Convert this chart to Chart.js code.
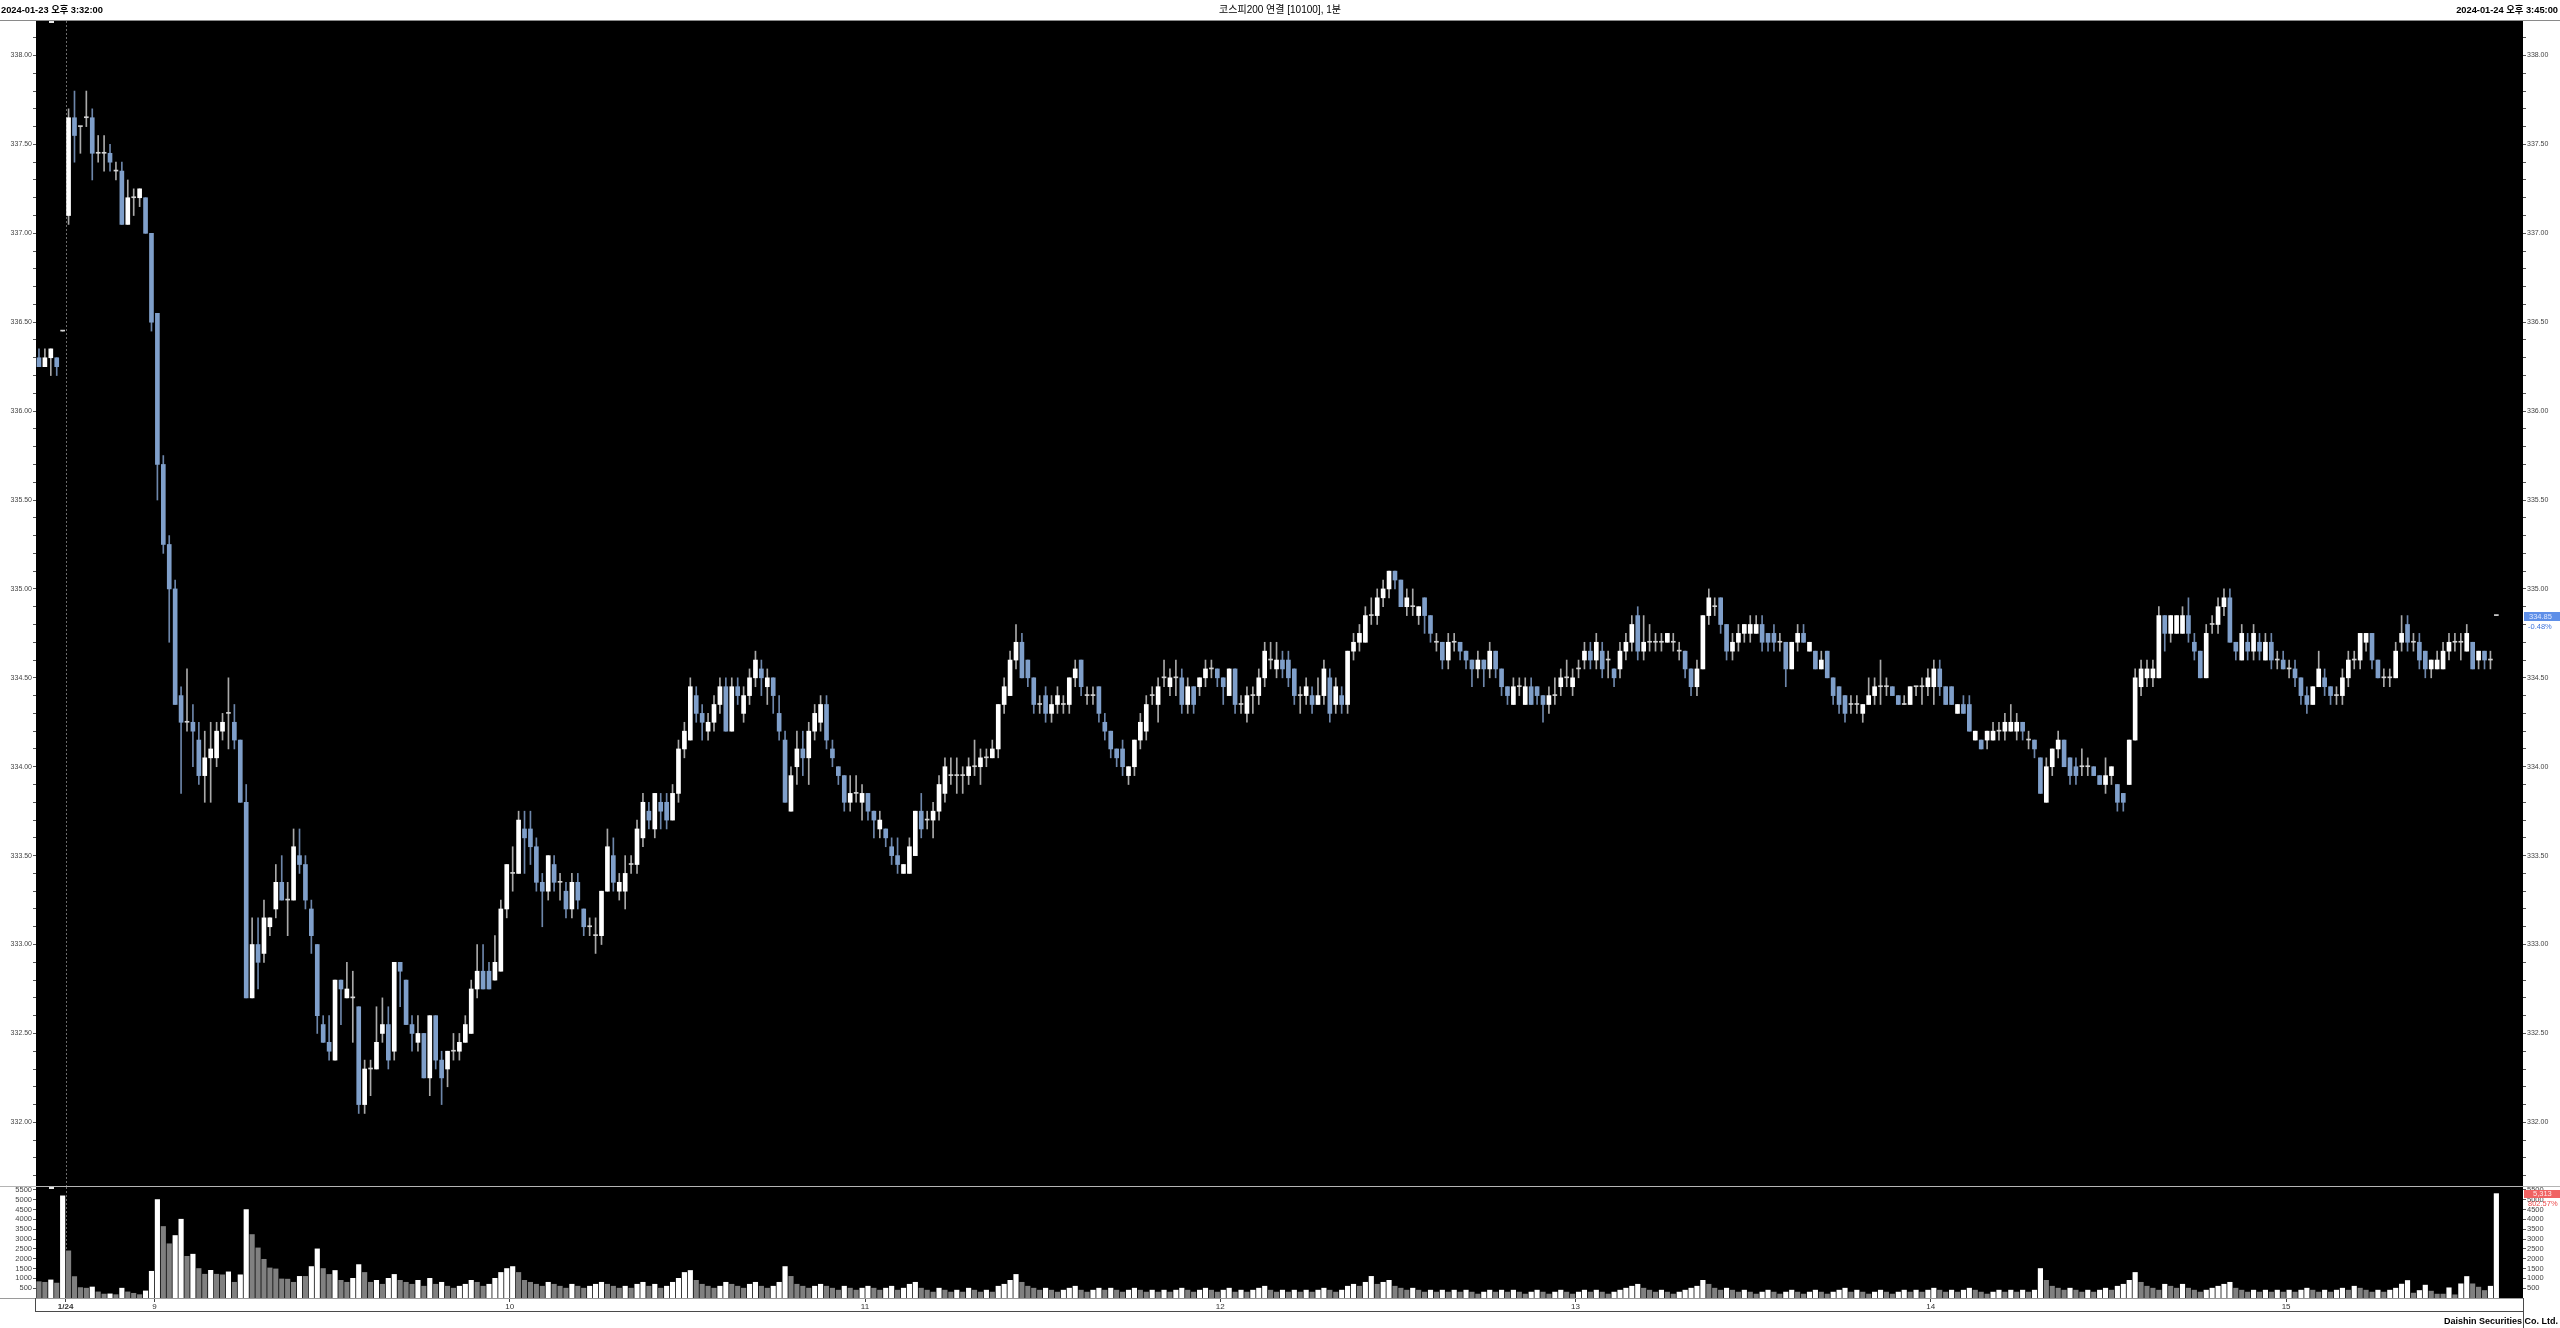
<!DOCTYPE html>
<html lang="ko">
<head>
<meta charset="utf-8">
<title>코스피200 연결 [10100], 1분</title>
<script src="https://cdn.jsdelivr.net/npm/chart.js@4.4.1/dist/chart.umd.min.js"></script>
<style>
  html, body { margin: 0; padding: 0; background: #fff; }
  body { width: 2560px; height: 1328px; position: relative; overflow: hidden;
         font-family: "Liberation Sans", "Noto Sans CJK KR", sans-serif; }
  canvas { position: absolute; left: 0; top: 0; }
  .txt { position: absolute; white-space: nowrap; color: #000; line-height: 12px; }
  #hdrLeft { left: 1px; top: 4px; font-size: 9.3px; font-weight: bold; }
  #hdrTitle { left: 0; width: 2560px; top: 4px; text-align: center; font-size: 10px; }
  #hdrRight { right: 2px; top: 4px; font-size: 9.3px; font-weight: bold; }
  #footer { right: 2px; top: 1315px; font-size: 9px; font-weight: bold; }
</style>
</head>
<body>
<canvas id="price" width="2560" height="1328"></canvas>
<canvas id="volume" width="2560" height="1328"></canvas>
<div class="txt" id="hdrLeft">2024-01-23 오후 3:32:00</div>
<div class="txt" id="hdrTitle">코스피200 연결 [10100], 1분</div>
<div class="txt" id="hdrRight">2024-01-24 오후 3:45:00</div>
<div class="txt" id="footer">Daishin Securities Co. Ltd.</div>
<script>
// 1-minute candles: 4 + closing auction of 01/23, then 01/24 08:45 .. 15:34 and the 15:45 close
const opens = [
  336.30,336.25,336.30,336.30,336.45,337.10,337.65,337.60,337.65,337.65,
  337.45,337.45,337.45,337.35,337.35,337.05,337.20,337.20,337.20,337.00,
  336.55,335.70,335.25,335.00,334.40,334.25,334.25,334.15,333.95,334.05,
  334.05,334.20,334.30,334.25,334.15,333.80,332.70,333.00,332.95,333.10,
  333.20,333.35,333.25,333.25,333.50,333.45,333.20,333.00,332.55,332.45,
  332.35,332.80,332.70,332.70,332.65,332.10,332.30,332.30,332.50,332.55,
  332.40,332.90,332.80,332.55,332.45,332.50,332.25,332.60,332.35,332.30,
  332.40,332.40,332.45,332.50,332.75,332.85,332.85,332.80,332.85,333.20,
  333.40,333.40,333.65,333.65,333.55,333.35,333.30,333.45,333.35,333.30,
  333.20,333.35,333.20,333.10,333.05,333.05,333.30,333.50,333.30,333.30,
  333.45,333.45,333.60,333.75,333.65,333.80,333.80,333.70,333.85,334.10,
  334.15,334.40,334.30,334.20,334.25,334.35,334.45,334.20,334.45,334.30,
  334.40,334.50,334.55,334.45,334.50,334.30,334.15,333.75,334.00,334.10,
  334.05,334.20,334.25,334.35,334.10,334.00,333.95,333.80,333.85,333.80,
  333.85,333.75,333.65,333.65,333.55,333.50,333.40,333.40,333.50,333.75,
  333.70,333.70,333.75,333.85,333.95,333.95,333.95,333.95,334.00,334.00,
  334.05,334.05,334.10,334.35,334.40,334.60,334.70,334.60,334.50,334.35,
  334.40,334.30,334.35,334.35,334.35,334.50,334.60,334.40,334.40,334.45,
  334.25,334.20,334.10,334.10,333.95,334.00,334.15,334.20,334.40,334.35,
  334.50,334.45,334.50,334.50,334.35,334.45,334.45,334.50,334.55,334.55,
  334.50,334.40,334.55,334.35,334.30,334.40,334.40,334.50,334.60,334.55,
  334.60,334.60,334.55,334.40,334.40,334.40,334.35,334.40,334.50,334.35,
  334.40,334.35,334.65,334.70,334.70,334.85,334.85,334.95,335.00,335.10,
  335.05,334.90,334.90,334.85,334.95,334.85,334.70,334.70,334.60,334.70,
  334.70,334.65,334.60,334.55,334.60,334.55,334.65,334.55,334.45,334.35,
  334.45,334.35,334.45,334.45,334.40,334.35,334.40,334.45,334.50,334.45,
  334.55,334.60,334.65,334.60,334.65,334.60,334.55,334.55,334.65,334.70,
  334.85,334.65,334.70,334.70,334.70,334.70,334.70,334.65,334.65,334.55,
  334.45,334.55,334.85,334.90,334.95,334.80,334.65,334.70,334.75,334.75,
  334.75,334.80,334.75,334.75,334.70,334.70,334.55,334.70,334.75,334.65,
  334.65,334.55,334.65,334.50,334.45,334.40,334.35,334.35,334.30,334.35,
  334.40,334.45,334.45,334.45,334.40,334.35,334.35,334.45,334.45,334.45,
  334.45,334.55,334.45,334.45,334.30,334.35,334.35,334.15,334.15,334.15,
  334.15,334.20,334.20,334.20,334.20,334.25,334.15,334.15,334.05,333.80,
  334.00,334.10,334.15,334.05,334.00,334.00,334.00,334.00,333.95,333.90,
  333.95,333.90,333.85,333.90,334.15,334.45,334.50,334.50,334.50,334.85,
  334.75,334.75,334.75,334.85,334.70,334.65,334.50,334.80,334.80,334.90,
  334.95,334.70,334.60,334.70,334.65,334.70,334.60,334.70,334.60,334.60,
  334.55,334.55,334.50,334.40,334.35,334.45,334.50,334.45,334.40,334.40,
  334.50,334.60,334.60,334.70,334.75,334.60,334.50,334.50,334.50,334.70,
  334.80,334.70,334.70,334.65,334.55,334.55,334.55,334.65,334.70,334.70,
  334.65,334.70,334.60,334.65,334.60,334.85
];
const highs = [
  336.35,336.35,336.35,336.30,336.45,337.70,337.80,337.60,337.80,337.70,
  337.55,337.55,337.50,337.40,337.40,337.30,337.25,337.25,337.20,337.00,
  336.55,335.75,335.30,335.05,334.45,334.55,334.35,334.25,334.20,334.25,
  334.25,334.30,334.50,334.35,334.15,333.90,333.15,333.15,333.25,333.15,
  333.45,333.50,333.35,333.65,333.65,333.50,333.25,333.00,332.60,332.60,
  332.80,332.80,332.90,332.85,332.65,332.35,332.35,332.65,332.70,332.65,
  332.90,332.90,332.80,332.60,332.60,332.50,332.60,332.60,332.40,332.40,
  332.50,332.50,332.60,332.80,333.00,333.00,332.90,333.05,333.25,333.45,
  333.55,333.75,333.75,333.75,333.60,333.40,333.50,333.50,333.40,333.35,
  333.40,333.40,333.20,333.15,333.15,333.30,333.65,333.60,333.40,333.50,
  333.50,333.70,333.85,333.80,333.85,333.85,333.85,333.90,334.15,334.25,
  334.50,334.45,334.35,334.30,334.40,334.50,334.50,334.50,334.50,334.45,
  334.55,334.65,334.60,334.55,334.50,334.40,334.20,334.00,334.20,334.20,
  334.25,334.35,334.40,334.40,334.15,334.00,333.95,333.95,333.95,333.90,
  333.85,333.75,333.75,333.65,333.60,333.60,333.45,333.60,333.75,333.85,
  333.75,333.80,333.95,334.05,334.05,334.05,334.00,334.05,334.15,334.10,
  334.10,334.15,334.35,334.50,334.65,334.80,334.75,334.60,334.50,334.40,
  334.45,334.40,334.45,334.40,334.50,334.60,334.60,334.45,334.45,334.45,
  334.30,334.20,334.10,334.15,334.00,334.15,334.30,334.40,334.45,334.50,
  334.60,334.55,334.60,334.55,334.50,334.45,334.50,334.60,334.60,334.55,
  334.50,334.55,334.55,334.40,334.45,334.45,334.55,334.70,334.70,334.70,
  334.65,334.65,334.55,334.45,334.50,334.45,334.50,334.60,334.55,334.50,
  334.45,334.65,334.75,334.80,334.90,334.95,335.00,335.05,335.10,335.10,
  335.05,335.00,335.00,334.90,334.95,334.85,334.75,334.70,334.75,334.75,
  334.70,334.65,334.60,334.65,334.60,334.70,334.65,334.55,334.45,334.50,
  334.50,334.50,334.50,334.45,334.40,334.45,334.50,334.55,334.60,334.55,
  334.60,334.70,334.70,334.75,334.70,334.65,334.55,334.70,334.75,334.85,
  334.90,334.85,334.80,334.75,334.75,334.75,334.75,334.70,334.65,334.55,
  334.60,334.85,335.00,334.95,334.95,334.80,334.75,334.80,334.80,334.85,
  334.85,334.85,334.75,334.80,334.75,334.70,334.70,334.80,334.80,334.70,
  334.65,334.65,334.65,334.50,334.45,334.40,334.40,334.40,334.35,334.50,
  334.50,334.60,334.50,334.45,334.40,334.40,334.45,334.45,334.50,334.55,
  334.60,334.60,334.45,334.45,334.35,334.40,334.40,334.20,334.15,334.20,
  334.25,334.25,334.30,334.35,334.30,334.25,334.20,334.15,334.05,334.05,
  334.10,334.20,334.15,334.05,334.05,334.10,334.05,334.00,333.95,334.05,
  334.00,333.90,333.85,334.15,334.55,334.60,334.60,334.60,334.90,334.85,
  334.85,334.85,334.90,334.95,334.75,334.65,334.80,334.85,334.95,335.00,
  335.00,334.70,334.80,334.75,334.80,334.75,334.75,334.75,334.65,334.65,
  334.60,334.60,334.50,334.45,334.45,334.65,334.55,334.45,334.45,334.55,
  334.65,334.65,334.75,334.75,334.75,334.60,334.55,334.55,334.70,334.85,
  334.85,334.75,334.75,334.65,334.60,334.65,334.70,334.75,334.75,334.75,
  334.80,334.70,334.65,334.65,334.65,334.85
];
const lows = [
  336.25,336.25,336.20,336.20,336.45,337.05,337.40,337.45,337.60,337.30,
  337.40,337.35,337.35,337.30,337.05,337.05,337.10,337.15,337.00,336.45,
  335.50,335.20,334.70,334.35,333.85,334.20,334.00,333.90,333.80,333.80,
  334.00,334.15,334.10,334.10,333.80,332.70,332.70,332.75,332.90,333.05,
  333.15,333.25,333.05,333.25,333.40,333.20,332.95,332.50,332.45,332.35,
  332.35,332.55,332.70,332.45,332.05,332.05,332.15,332.30,332.45,332.30,
  332.35,332.65,332.55,332.40,332.40,332.25,332.15,332.30,332.10,332.20,
  332.35,332.35,332.45,332.50,332.70,332.75,332.75,332.80,332.85,333.15,
  333.30,333.40,333.40,333.45,333.30,333.10,333.25,333.30,333.25,333.15,
  333.15,333.20,333.05,333.05,332.95,333.00,333.30,333.30,333.25,333.20,
  333.40,333.40,333.55,333.65,333.60,333.65,333.65,333.70,333.80,334.05,
  334.15,334.25,334.15,334.15,334.20,334.30,334.20,334.20,334.35,334.25,
  334.35,334.45,334.40,334.35,334.30,334.15,333.80,333.75,333.90,333.95,
  333.90,334.15,334.20,334.10,334.00,333.90,333.75,333.75,333.80,333.70,
  333.70,333.60,333.60,333.55,333.45,333.40,333.40,333.40,333.50,333.60,
  333.65,333.60,333.70,333.80,333.90,333.85,333.85,333.90,333.95,333.90,
  334.00,334.05,334.05,334.30,334.40,334.55,334.50,334.45,334.30,334.30,
  334.25,334.25,334.30,334.30,334.30,334.45,334.40,334.35,334.35,334.25,
  334.15,334.05,334.00,333.95,333.90,333.95,334.10,334.15,334.35,334.25,
  334.45,334.40,334.40,334.30,334.30,334.30,334.40,334.45,334.50,334.45,
  334.35,334.40,334.30,334.30,334.25,334.30,334.35,334.45,334.55,334.50,
  334.50,334.45,334.35,334.30,334.35,334.30,334.35,334.35,334.25,334.30,
  334.30,334.30,334.60,334.65,334.70,334.80,334.80,334.90,334.95,335.00,
  334.90,334.85,334.85,334.80,334.75,334.70,334.65,334.55,334.55,334.65,
  334.60,334.55,334.45,334.50,334.45,334.50,334.50,334.40,334.35,334.35,
  334.40,334.35,334.35,334.35,334.25,334.30,334.35,334.40,334.45,334.40,
  334.50,334.55,334.55,334.55,334.50,334.50,334.45,334.50,334.60,334.65,
  334.60,334.60,334.65,334.65,334.65,334.70,334.65,334.60,334.50,334.40,
  334.40,334.55,334.80,334.85,334.75,334.60,334.60,334.65,334.70,334.70,
  334.75,334.65,334.65,334.65,334.65,334.45,334.55,334.65,334.70,334.65,
  334.55,334.55,334.50,334.35,334.30,334.25,334.30,334.30,334.25,334.35,
  334.35,334.35,334.40,334.40,334.35,334.35,334.35,334.40,334.35,334.40,
  334.35,334.40,334.35,334.35,334.30,334.30,334.20,334.15,334.10,334.10,
  334.15,334.15,334.15,334.20,334.15,334.15,334.10,334.05,333.85,333.80,
  333.95,334.05,334.00,333.90,333.90,333.95,333.95,333.95,333.90,333.85,
  333.90,333.75,333.75,333.90,334.15,334.40,334.45,334.45,334.50,334.65,
  334.70,334.75,334.75,334.70,334.60,334.50,334.50,334.75,334.75,334.85,
  334.70,334.60,334.60,334.60,334.60,334.60,334.60,334.55,334.55,334.55,
  334.50,334.45,334.35,334.30,334.35,334.45,334.40,334.35,334.35,334.35,
  334.45,334.55,334.55,334.65,334.55,334.50,334.45,334.45,334.50,334.65,
  334.65,334.65,334.55,334.50,334.50,334.55,334.55,334.60,334.65,334.60,
  334.65,334.55,334.55,334.55,334.55,334.85
];
const closes = [
  336.25,336.30,336.35,336.25,336.45,337.65,337.55,337.60,337.65,337.45,
  337.45,337.45,337.40,337.35,337.05,337.20,337.20,337.25,337.00,336.50,
  335.70,335.25,335.00,334.35,334.25,334.25,334.20,333.95,334.05,334.10,
  334.20,334.25,334.30,334.15,333.80,332.70,333.00,332.90,333.15,333.15,
  333.35,333.25,333.25,333.55,333.45,333.25,333.05,332.60,332.45,332.40,
  332.80,332.75,332.75,332.70,332.10,332.30,332.30,332.45,332.55,332.35,
  332.90,332.85,332.55,332.50,332.50,332.25,332.60,332.35,332.25,332.40,
  332.40,332.45,332.55,332.75,332.85,332.75,332.75,332.90,333.20,333.45,
  333.40,333.70,333.60,333.55,333.35,333.30,333.50,333.35,333.35,333.20,
  333.35,333.25,333.10,333.10,333.05,333.30,333.55,333.35,333.35,333.40,
  333.45,333.65,333.80,333.70,333.85,333.75,333.70,333.85,334.10,334.20,
  334.45,334.30,334.25,334.25,334.35,334.45,334.20,334.45,334.40,334.40,
  334.50,334.60,334.50,334.50,334.40,334.20,333.80,333.95,334.10,334.05,
  334.20,334.30,334.35,334.15,334.05,333.95,333.80,333.85,333.85,333.85,
  333.75,333.70,333.70,333.60,333.50,333.45,333.45,333.55,333.75,333.65,
  333.70,333.75,333.90,334.00,333.95,333.95,333.95,334.00,334.00,334.05,
  334.05,334.10,334.35,334.45,334.60,334.70,334.50,334.50,334.35,334.35,
  334.30,334.35,334.40,334.35,334.50,334.55,334.45,334.40,334.40,334.30,
  334.20,334.10,334.05,334.00,334.00,334.15,334.25,334.35,334.40,334.45,
  334.50,334.50,334.50,334.35,334.45,334.35,334.50,334.55,334.55,334.50,
  334.45,334.55,334.35,334.35,334.40,334.40,334.50,334.65,334.60,334.60,
  334.55,334.50,334.40,334.40,334.45,334.35,334.40,334.55,334.30,334.45,
  334.35,334.65,334.70,334.75,334.85,334.85,334.95,335.00,335.10,335.05,
  334.90,334.95,334.90,334.90,334.85,334.75,334.70,334.60,334.70,334.70,
  334.65,334.60,334.55,334.60,334.55,334.65,334.55,334.45,334.40,334.45,
  334.45,334.45,334.35,334.40,334.35,334.40,334.40,334.50,334.50,334.50,
  334.55,334.65,334.60,334.70,334.55,334.60,334.50,334.65,334.70,334.80,
  334.65,334.70,334.70,334.70,334.70,334.75,334.70,334.65,334.55,334.45,
  334.55,334.85,334.95,334.90,334.80,334.65,334.70,334.75,334.80,334.80,
  334.80,334.70,334.70,334.70,334.70,334.55,334.70,334.75,334.70,334.70,
  334.55,334.60,334.50,334.40,334.35,334.30,334.35,334.35,334.35,334.40,
  334.45,334.45,334.45,334.40,334.35,334.35,334.45,334.45,334.45,334.50,
  334.55,334.45,334.35,334.35,334.35,334.30,334.20,334.20,334.10,334.20,
  334.20,334.20,334.25,334.25,334.25,334.20,334.15,334.10,333.85,334.00,
  334.10,334.15,334.00,333.95,333.95,334.00,334.00,333.95,333.90,333.95,
  334.00,333.80,333.80,334.15,334.50,334.55,334.55,334.55,334.85,334.75,
  334.85,334.85,334.85,334.75,334.65,334.50,334.75,334.80,334.90,334.95,
  334.70,334.65,334.75,334.65,334.75,334.65,334.70,334.60,334.60,334.55,
  334.55,334.50,334.40,334.35,334.45,334.55,334.45,334.40,334.40,334.50,
  334.60,334.60,334.75,334.75,334.60,334.50,334.50,334.50,334.65,334.75,
  334.70,334.70,334.60,334.55,334.60,334.60,334.65,334.70,334.70,334.70,
  334.75,334.55,334.65,334.60,334.60,334.85
];
const volumes = [
  830,800,920,760,5200,2400,1090,530,500,560,
  310,200,210,170,500,310,240,170,360,1360,
  5010,3640,2760,3180,4010,2120,2230,1500,1210,1410,
  1210,1180,1330,800,1180,4500,3230,2550,1970,1530,
  1480,970,960,800,1100,1100,1600,2500,1500,1200,
  1400,900,800,1000,1700,1300,800,900,700,1000,
  1200,900,800,700,900,600,1000,700,800,600,
  500,600,700,900,800,600,700,1000,1300,1500,
  1600,1300,900,800,700,600,800,700,600,500,
  700,600,500,600,700,800,700,600,500,600,
  500,700,800,600,700,500,600,800,1000,1300,
  1400,900,700,600,500,600,800,700,600,500,
  700,800,600,500,600,800,1600,1100,700,600,
  500,600,700,600,500,400,600,500,400,500,
  600,500,400,500,600,400,500,700,800,500,
  400,300,500,400,300,400,300,500,400,300,
  400,300,600,700,900,1200,800,600,500,400,
  500,400,300,400,500,600,400,300,400,500,
  400,500,400,300,400,500,400,300,400,300,
  400,300,400,500,400,300,400,500,400,300,
  400,500,300,400,300,400,500,600,400,300,
  400,300,400,300,400,300,400,500,400,300,
  400,600,700,600,800,1100,700,800,900,600,
  500,400,500,400,300,400,300,400,300,400,
  300,400,300,200,300,400,300,400,300,400,
  300,200,300,400,300,200,300,400,300,200,
  300,400,300,400,300,200,300,400,500,600,
  700,500,400,300,400,300,200,300,400,500,
  600,900,700,500,400,500,400,300,400,300,
  200,300,400,300,200,300,400,300,200,300,
  400,300,200,300,400,500,300,400,300,200,
  300,400,300,200,300,400,300,400,300,400,
  500,400,300,400,300,400,500,400,300,200,
  300,400,300,400,300,400,300,400,1500,900,
  600,500,400,500,400,300,400,300,400,500,
  400,600,700,900,1300,800,600,500,400,700,
  600,500,700,500,400,300,400,500,600,700,
  800,500,400,300,400,300,400,300,400,300,
  400,300,400,500,400,300,400,300,400,500,
  400,600,500,400,300,400,300,400,500,707,
  890,249,381,655,350,198,198,519,163,722,
  1094,722,553,381,600,5313
];
const volumeChangeText = "802.57%";
const prevCloseIndex = 4;           // 01/23 closing auction candle
const tickLabels = ["1/24", "9", "10", "11", "12", "13", "14", "15"];
const tickSlots = [5, 20, 80, 140, 200, 260, 320, 380];
const volumeTicks = [500, 1000, 1500, 2000, 2500, 3000, 3500, 4000, 4500, 5000, 5500];
const priceMin = 331.642, priceMax = 338.194;
const volumeMax = 5650;

// category slots: one per candle, four spare slots after the close
const pad2 = v => String(v).padStart(2, "0");
const times = ["01/23 15:32", "01/23 15:33", "01/23 15:34", "01/23 15:35", "01/23 15:45"];
for (let m = 8 * 60 + 45; m <= 15 * 60 + 34; m++) times.push("01/24 " + pad2(Math.floor(m / 60)) + ":" + pad2(m % 60));
times.push("01/24 15:45");
const slots = times.concat(["", " ", "  ", "   "]);

const FONT = '"Liberation Sans", "Noto Sans CJK KR", sans-serif';
Chart.defaults.font.family = FONT;

const bodyColors = closes.map((c, i) => c > opens[i] ? "#ffffff" : c < opens[i] ? "#7f9fca" : "#d4d4d4");
const wickColors = closes.map((c, i) => c < opens[i] ? "#6d86aa" : "#a9a9a9");
const volColors = volumes.map((v, i) => i > 0 && v > volumes[i - 1] ? "#ffffff" : "#808080");

function slotWidth(xs) { return xs.getPixelForValue(1) - xs.getPixelForValue(0); }

const blackPlot = {
  id: "blackPlot",
  beforeDraw(chart) {
    const a = chart.chartArea, ctx = chart.ctx;
    ctx.save();
    ctx.fillStyle = "#000";
    ctx.fillRect(a.left, a.top, a.right - a.left, a.bottom - a.top);
    ctx.restore();
  }
};

const daySeparator = {
  id: "daySeparator",
  beforeDatasetsDraw(chart) {
    const xs = chart.scales.x, a = chart.chartArea, ctx = chart.ctx;
    const x = Math.round(xs.getPixelForValue(5) - slotWidth(xs) / 2) + 0.5;
    ctx.save();
    ctx.strokeStyle = "#6a6a6a";
    ctx.lineWidth = 1;
    ctx.setLineDash([2, 2]);
    ctx.beginPath();
    ctx.moveTo(x, a.top);
    ctx.lineTo(x, a.bottom);
    ctx.stroke();
    // small white marker at the top edge
    ctx.fillStyle = "#e8e8e8";
    ctx.fillRect(Math.round(xs.getPixelForValue(2)) - 2, a.top, 5, 2);
    ctx.restore();
  }
};

const priceFrame = {
  id: "priceFrame",
  afterDraw(chart) {
    const ctx = chart.ctx, a = chart.chartArea;
    ctx.save();
    ctx.fillStyle = "#8a8a8a";
    ctx.fillRect(0, a.top - 1, 2560, 1);
    // last price tag on the right axis
    const last = closes.length - 1;
    const y = chart.scales.y2.getPixelForValue(closes[last]);
    const pct = (closes[last] / closes[prevCloseIndex] - 1) * 100;
    ctx.fillStyle = "#5e8fe8";
    ctx.fillRect(a.right + 1, Math.round(y) - 4, 2560 - a.right - 1, 9);
    ctx.font = "7.5px " + FONT;
    ctx.textBaseline = "middle";
    ctx.textAlign = "left";
    ctx.fillStyle = "#dfe9ff";
    ctx.fillText(closes[last].toFixed(2), a.right + 6, Math.round(y) + 0.5);
    ctx.fillStyle = "#3f74dc";
    ctx.fillText(pct.toFixed(2) + "%", a.right + 5, Math.round(y) + 11);
    ctx.restore();
  }
};

const volumeFrame = {
  id: "volumeFrame",
  afterDraw(chart) {
    const ctx = chart.ctx, a = chart.chartArea;
    ctx.save();
    ctx.fillStyle = "#b4b4b4";
    ctx.fillRect(0, a.top - 1, 2560, 1);
    ctx.fillStyle = "#9a9a9a";
    ctx.fillRect(0, a.bottom, a.right, 1);
    ctx.fillStyle = "#4a4a4a";
    ctx.fillRect(a.left, a.bottom + 13, a.right - a.left, 1);
    ctx.fillRect(a.left - 1, a.bottom, 1, 14);
    ctx.fillRect(a.right, a.bottom, 1, 30);
    // last volume tag on the right axis
    const last = volumes.length - 1;
    const y = chart.scales.v2.getPixelForValue(volumes[last]);
    ctx.fillStyle = "#f06262";
    ctx.fillRect(a.right + 1, Math.round(y) - 4, 2560 - a.right - 1, 8);
    ctx.font = "7.5px " + FONT;
    ctx.textBaseline = "middle";
    ctx.textAlign = "left";
    ctx.fillStyle = "#ffe6e6";
    ctx.fillText(volumes[last].toLocaleString("en-US"), a.right + 10, Math.round(y));
    ctx.fillStyle = "#ec4c4c";
    ctx.fillText(volumeChangeText, a.right + 5, Math.round(y) + 10);
    ctx.restore();
  }
};

function sideAxis(position, extra) {
  return Object.assign({
    axis: "y",
    position: position,
    afterFit: s => { s.width = position === "left" ? 36 : 37; },
    grid: { display: true, drawOnChartArea: false, drawTicks: true, tickLength: 3, color: "#555" },
    border: { display: false },
    ticks: { autoSkip: false, includeBounds: false, padding: 1, color: "#444",
             font: { family: FONT, size: 7, lineHeight: 1 } }
  }, extra);
}

function priceAxis(position) {
  const ax = sideAxis(position, { min: priceMin, max: priceMax });
  ax.ticks.stepSize = 0.1;
  ax.ticks.callback = v => Math.abs(v * 2 - Math.round(v * 2)) < 1e-6 ? v.toFixed(2) : "";
  return ax;
}

function volumeAxis(position) {
  const ax = sideAxis(position, { min: 0, max: volumeMax });
  ax.afterBuildTicks = s => { s.ticks = volumeTicks.map(v => ({ value: v })); };
  ax.ticks.font = { family: FONT, size: 7.5, lineHeight: 1 };
  ax.ticks.callback = v => String(v);
  return ax;
}

const common = {
  responsive: false,
  animation: false,
  devicePixelRatio: 1,
  events: [],
  plugins: { legend: { display: false }, tooltip: { enabled: false } }
};

new Chart(document.getElementById("price"), {
  type: "bar",
  data: {
    labels: slots,
    datasets: [
      { data: lows.map((l, i) => [l, highs[i]]), backgroundColor: wickColors,
        barThickness: 1, grouped: false, order: 2 },
      { data: opens.map((o, i) => [o, closes[i]]), backgroundColor: bodyColors,
        barThickness: 4, minBarLength: 1, grouped: false, order: 1 }
    ]
  },
  options: Object.assign({}, common, {
    layout: { padding: { top: 21, bottom: 142, left: 0, right: 0 } },
    scales: {
      x: { display: false, offset: true },
      y: priceAxis("left"),
      y2: priceAxis("right")
    }
  }),
  plugins: [blackPlot, daySeparator, priceFrame]
});

new Chart(document.getElementById("volume"), {
  type: "bar",
  data: {
    labels: slots,
    datasets: [
      { data: volumes, backgroundColor: volColors, barThickness: 4.5, yAxisID: "v" }
    ]
  },
  options: Object.assign({}, common, {
    layout: { padding: { top: 1187, bottom: 17, left: 0, right: 0 } },
    scales: {
      x: {
        offset: true,
        afterFit: s => { s.height = 13; },
        grid: { offset: true, drawOnChartArea: false, drawTicks: true, tickLength: 4,
                color: ctx => tickSlots.includes(ctx.index) ? "#444" : "rgba(0,0,0,0)" },
        border: { display: false },
        ticks: {
          autoSkip: false, maxRotation: 0, minRotation: 0, padding: 0, labelOffset: -3,
          color: "#333",
          font: ctx => ({ family: FONT, size: 8, weight: ctx.index === tickSlots[0] ? "bold" : "normal" }),
          callback: (v, i) => { const k = tickSlots.indexOf(i); return k >= 0 ? tickLabels[k] : ""; }
        }
      },
      v: volumeAxis("left"),
      v2: volumeAxis("right")
    }
  }),
  plugins: [blackPlot, daySeparator, volumeFrame]
});
</script>
</body>
</html>
